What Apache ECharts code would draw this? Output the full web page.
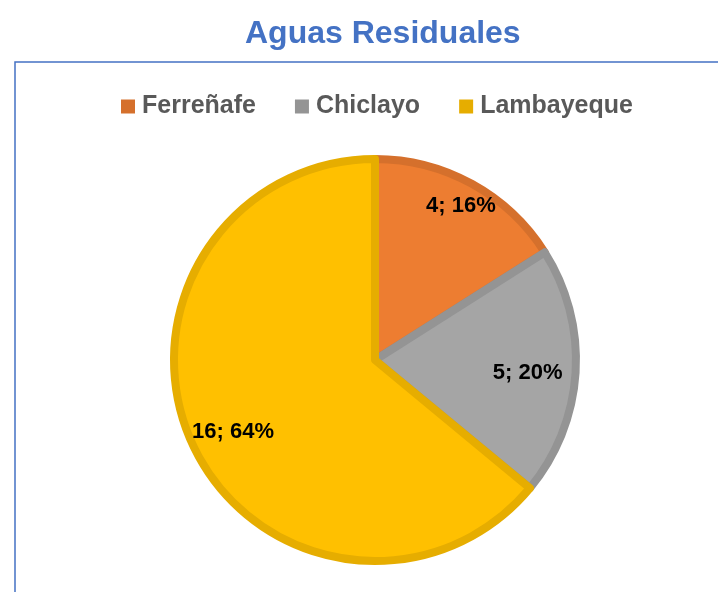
<!DOCTYPE html>
<html>
<head>
    <meta charset="utf-8">
    <script src="https://cdn.jsdelivr.net/npm/echarts@6/dist/echarts.min.js"></script>
    <style>body{margin:0;background:#fff;}</style>
</head>
<body>
    <div id="main" style="width: 718px;height:592px;"></div>
    <script type="text/javascript">

var provincias = ['Ferreñafe', 'Chiclayo', 'Lambayeque'];
var valores = [4, 5, 16];
var rellenos = ['#ED7D31', '#A5A5A5', '#FFC000'];
var bordes = ['#D5702C', '#949494', '#E6AD00'];
// pequeño ajuste de las etiquetas
var desplazamientos = [[5, -7], [-15, 2], [10, 0]];

var datos = [];
var datosEtiqueta = [];
for (var i = 0; i < provincias.length; i++) {
    datos.push({
        name: provincias[i],
        value: valores[i],
        itemStyle: { color: rellenos[i], borderColor: bordes[i], borderWidth: 8 }
    });
    datosEtiqueta.push({ name: provincias[i], value: valores[i], label: { offset: desplazamientos[i] } });
}

var option = {
    backgroundColor: '#fff',
    title: {
        text: 'Aguas Residuales',
        left: 240,
        top: 13,
        textStyle: { color: '#4472C4', fontSize: 32, fontWeight: 'bold', fontFamily: 'Liberation Sans' }
    },
    graphic: [{
        type: 'rect',
        shape: { x: 15, y: 62, width: 720, height: 560 },
        style: { fill: 'none', stroke: '#4472C4', lineWidth: 1.5 },
        silent: true
    }],
    legend: {
        data: provincias.map(function (n, i) {
            return { name: n, itemStyle: { color: bordes[i], borderWidth: 0 } };
        }),
        left: 116,
        top: 89,
        icon: 'rect',
        itemWidth: 14,
        itemHeight: 14,
        itemGap: 39,
        textStyle: { color: '#595959', fontSize: 25, fontWeight: 'bold', fontFamily: 'Liberation Sans', padding: [0, 0, 0, 2] }
    },
    series: [{
        type: 'pie',
        center: [375, 360],
        radius: [0, 201],
        startAngle: 90,
        clockwise: true,
        silent: true,
        label: { show: false },
        labelLine: { show: false },
        data: datos
    }, {
        // serie transparente solo para colocar las etiquetas mas afuera
        type: 'pie',
        center: [375, 360],
        radius: [0, 330],
        startAngle: 90,
        clockwise: true,
        silent: true,
        itemStyle: { color: 'rgba(0,0,0,0)', borderWidth: 0 },
        label: {
            show: true,
            position: 'inside',
            color: '#000',
            fontSize: 22,
            fontWeight: 'bold',
            fontFamily: 'Liberation Sans',
            formatter: function (p) { return p.value + '; ' + Math.round(p.percent) + '%'; }
        },
        labelLine: { show: false },
        data: datosEtiqueta
    }]
};

var myChart = echarts.init(document.getElementById('main'));
myChart.setOption(option);

    </script>
</body>
</html>
